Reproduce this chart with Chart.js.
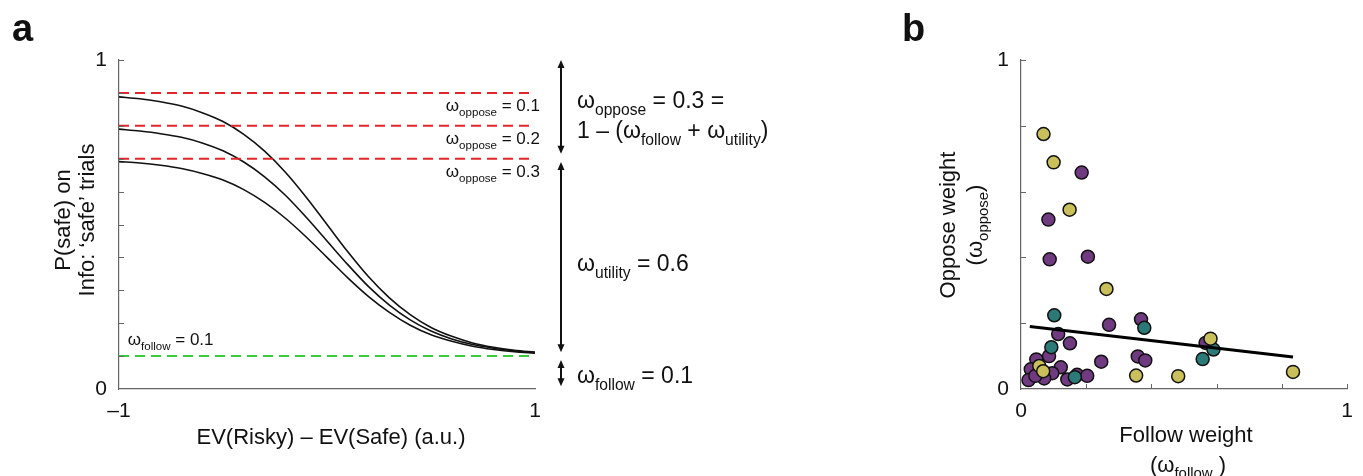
<!DOCTYPE html>
<html>
<head>
<meta charset="utf-8">
<script src="https://cdn.jsdelivr.net/npm/chart.js@4/dist/chart.umd.min.js"></script>
<style>
  body { margin: 0; background: #fff; width: 1363px; height: 476px; overflow: hidden; }
  .panel { position: absolute; top: 0; }
  #panelA { left: 0; }
  #panelB { left: 880px; }
</style>
</head>
<body>
<div class="panel" id="panelA"><canvas id="chartA" width="780" height="476"></canvas></div>
<div class="panel" id="panelB"><canvas id="chartB" width="483" height="476"></canvas></div>
<script>
// panel a: model curves, P(safe) vs EV(Risky) - EV(Safe)
const evDiff = [-1, -0.9, -0.8, -0.7, -0.6, -0.5, -0.4, -0.3, -0.2, -0.1, 0, 0.1, 0.2, 0.3, 0.4, 0.5, 0.6, 0.7, 0.8, 0.9, 1];
const pSafeOppose1 = [0.888, 0.882, 0.873, 0.860, 0.840, 0.813, 0.774, 0.723, 0.659, 0.583, 0.500, 0.417, 0.341, 0.277, 0.226, 0.187, 0.160, 0.140, 0.127, 0.118, 0.112];
const pSafeOppose2 = [0.790, 0.784, 0.776, 0.765, 0.748, 0.724, 0.690, 0.645, 0.589, 0.522, 0.450, 0.378, 0.311, 0.255, 0.210, 0.176, 0.152, 0.135, 0.124, 0.116, 0.110];
const pSafeOppose3 = [0.691, 0.687, 0.680, 0.670, 0.655, 0.635, 0.606, 0.567, 0.519, 0.462, 0.400, 0.338, 0.281, 0.233, 0.194, 0.165, 0.145, 0.130, 0.120, 0.113, 0.109];
const opposeLevels = [0.9, 0.8, 0.7];
const opposeLabels = ["0.1", "0.2", "0.3"];
const followLevel = 0.1;

// panel b: fitted weights per participant, three groups
const followPurple = [0.186, 0.084, 0.088, 0.205, 0.270, 0.368, 0.114, 0.150, 0.566, 0.246, 0.358, 0.381, 0.047, 0.086, 0.030, 0.023, 0.122, 0.096, 0.071, 0.044, 0.142, 0.172, 0.203];
const opposePurple = [0.658, 0.515, 0.394, 0.402, 0.195, 0.212, 0.167, 0.139, 0.140, 0.083, 0.099, 0.087, 0.090, 0.100, 0.060, 0.027, 0.066, 0.048, 0.032, 0.040, 0.029, 0.043, 0.040];
const followTeal = [0.102, 0.378, 0.093, 0.590, 0.557, 0.165];
const opposeTeal = [0.224, 0.186, 0.127, 0.120, 0.091, 0.036];
const followYellow = [0.069, 0.100, 0.149, 0.262, 0.581, 0.353, 0.482, 0.834, 0.056, 0.068];
const opposeYellow = [0.775, 0.689, 0.545, 0.304, 0.153, 0.041, 0.039, 0.052, 0.070, 0.054];
const fitFollow = [0.027, 0.834];
const fitOppose = [0.190, 0.097];

const FONT = "'Liberation Sans', Arial, Helvetica, sans-serif";
const pts = (xs, ys) => xs.map((x, i) => ({ x: x, y: ys[i] }));
const endLabel = v => (Math.abs(v) < 1e-9 ? "0" : Math.abs(v - 1) < 1e-9 ? "1" : "");
const evLabel = v => (Math.abs(v + 1) < 1e-9 ? "–1" : Math.abs(v - 1) < 1e-9 ? "1" : "");

// text with subscripts: runs = [[text, isSub], ...]; y is the middle of capitals
function rich(ctx, runs, x, y, size, align, angle) {
  ctx.save();
  ctx.translate(x, y);
  if (angle) ctx.rotate(angle);
  ctx.fillStyle = "#111";
  ctx.textAlign = "left";
  ctx.textBaseline = "alphabetic";
  const subSize = size * 0.68;
  let w = 0;
  runs.forEach(r => {
    ctx.font = (r[1] ? subSize : size) + "px " + FONT;
    w += ctx.measureText(r[0]).width;
  });
  let cx = align === "center" ? -w / 2 : align === "right" ? -w : 0;
  runs.forEach(r => {
    ctx.font = (r[1] ? subSize : size) + "px " + FONT;
    ctx.fillText(r[0], cx, size * 0.36 + (r[1] ? size * 0.28 : 0));
    cx += ctx.measureText(r[0]).width;
  });
  ctx.restore();
}

function doubleArrow(ctx, x, y1, y2) {
  ctx.save();
  ctx.strokeStyle = "#111";
  ctx.fillStyle = "#111";
  ctx.lineWidth = 2;
  ctx.beginPath();
  ctx.moveTo(x, y1 + 6);
  ctx.lineTo(x, y2 - 6);
  ctx.stroke();
  ctx.beginPath();
  ctx.moveTo(x, y1); ctx.lineTo(x - 3.5, y1 + 8); ctx.lineTo(x + 3.5, y1 + 8); ctx.closePath();
  ctx.moveTo(x, y2); ctx.lineTo(x - 3.5, y2 - 8); ctx.lineTo(x + 3.5, y2 - 8); ctx.closePath();
  ctx.fill();
  ctx.restore();
}

function inwardTicks(ctx, chart, xToo) {
  const xs = chart.scales.x, ys = chart.scales.y, a = chart.chartArea;
  ctx.save();
  ctx.strokeStyle = "#666";
  ctx.lineWidth = 1;
  ys.ticks.forEach(t => {
    if (t.value <= 0) return;
    const py = Math.round(ys.getPixelForValue(t.value)) + 0.5;
    ctx.beginPath(); ctx.moveTo(a.left, py); ctx.lineTo(a.left + 5, py); ctx.stroke();
  });
  if (xToo) {
    xs.ticks.forEach(t => {
      if (t.value <= 0) return;
      const px = Math.round(xs.getPixelForValue(t.value)) + 0.5;
      ctx.beginPath(); ctx.moveTo(px, a.bottom); ctx.lineTo(px, a.bottom - 5); ctx.stroke();
    });
  }
  ctx.restore();
}

const tickFont = { family: FONT, size: 21 };
const axisBorder = { display: true, color: "#666", width: 1.2 };
const noGrid = { display: false, drawTicks: false, tickLength: 0 };

const decorA = {
  id: "decorA",
  afterDraw(chart) {
    const ctx = chart.ctx, a = chart.chartArea, ys = chart.scales.y, xs = chart.scales.x;
    inwardTicks(ctx, chart, false);
    ctx.save();
    ctx.font = "bold 38px " + FONT;
    ctx.fillStyle = "#111";
    ctx.fillText("a", 12, 41);
    ctx.restore();
    // axis titles
    rich(ctx, [["EV(Risky) – EV(Safe) (a.u.)", 0]], (a.left + a.right) / 2 + 4, 436, 22, "center");
    rich(ctx, [["P(safe) on", 0]], 62, 220, 22, "center", -Math.PI / 2);
    rich(ctx, [["Info: ‘safe’ trials", 0]], 86, 220, 22, "center", -Math.PI / 2);
    // labels of the dashed levels
    opposeLevels.forEach((lv, i) => {
      rich(ctx, [["ω", 0], ["oppose", 1], [" = " + opposeLabels[i], 0]], a.right + 5, ys.getPixelForValue(lv) + 12, 17, "right");
    });
    rich(ctx, [["ω", 0], ["follow", 1], [" = 0.1", 0]], xs.getPixelForValue(-0.958), ys.getPixelForValue(followLevel) - 17, 17, "left");
    // weight decomposition on the right
    const ax = a.right + 26, tx = a.right + 42;
    doubleArrow(ctx, ax, ys.getPixelForValue(1.0), ys.getPixelForValue(0.715));
    doubleArrow(ctx, ax, ys.getPixelForValue(0.69), ys.getPixelForValue(0.112));
    doubleArrow(ctx, ax, ys.getPixelForValue(0.088), ys.getPixelForValue(0.008));
    rich(ctx, [["ω", 0], ["oppose", 1], [" = 0.3 =", 0]], tx, ys.getPixelForValue(0.878), 23, "left");
    rich(ctx, [["1 – (ω", 0], ["follow", 1], [" + ω", 0], ["utility", 1], [")", 0]], tx, ys.getPixelForValue(0.787), 23, "left");
    rich(ctx, [["ω", 0], ["utility", 1], [" = 0.6", 0]], tx, ys.getPixelForValue(0.383), 23, "left");
    rich(ctx, [["ω", 0], ["follow", 1], [" = 0.1", 0]], tx, ys.getPixelForValue(0.043), 23, "left");
  }
};

const levelLine = (lv, color) => ({
  data: [{ x: -1, y: lv }, { x: 1, y: lv }],
  showLine: true, pointRadius: 0, borderColor: color, borderWidth: 2, borderDash: [10, 6], clip: false
});
const curve = ys => ({
  data: pts(evDiff, ys), showLine: true, pointRadius: 0, borderColor: "#111", borderWidth: 1.6,
  cubicInterpolationMode: "monotone"
});

new Chart(document.getElementById("chartA"), {
  type: "scatter",
  data: {
    datasets: [
      ...opposeLevels.map(lv => levelLine(lv, "#e3262b")),
      levelLine(followLevel, "#3acb3a"),
      curve(pSafeOppose1), curve(pSafeOppose2), curve(pSafeOppose3)
    ]
  },
  options: {
    responsive: false, animation: false, devicePixelRatio: 1,
    layout: { padding: { left: 0, right: 245, top: 60, bottom: 0 } },
    plugins: { legend: { display: false }, tooltip: { enabled: false } },
    scales: {
      x: {
        type: "linear", min: -1, max: 1,
        grid: noGrid, border: axisBorder,
        ticks: { stepSize: 1, autoSkip: false, color: "#111", font: tickFont, padding: 10, maxRotation: 0,
          callback: evLabel },
        afterFit: s => { s.height = 87; }
      },
      y: {
        min: 0, max: 1,
        grid: noGrid, border: axisBorder,
        ticks: { stepSize: 0.1, autoSkip: false, color: "#111", font: tickFont, padding: 12,
          callback: endLabel },
        afterFit: s => { s.width = 119; }
      }
    }
  },
  plugins: [decorA]
});

const decorB = {
  id: "decorB",
  afterDraw(chart) {
    const ctx = chart.ctx;
    inwardTicks(ctx, chart, true);
    ctx.save();
    ctx.font = "bold 38px " + FONT;
    ctx.fillStyle = "#111";
    ctx.fillText("b", 22, 41);
    ctx.restore();
    rich(ctx, [["Follow weight", 0]], 306, 434, 22, "center");
    rich(ctx, [["(ω", 0], ["follow", 1], [" )", 0]], 308, 464, 22, "center");
    rich(ctx, [["Oppose weight", 0]], 67, 225, 22, "center", -Math.PI / 2);
    rich(ctx, [["(ω", 0], ["oppose", 1], [")", 0]], 94, 225, 22, "center", -Math.PI / 2);
  }
};

const dots = (xs, ys, color) => ({
  data: pts(xs, ys), backgroundColor: color, borderColor: "#111", borderWidth: 1.5, pointRadius: 6.5, order: 1
});

new Chart(document.getElementById("chartB"), {
  type: "scatter",
  data: {
    datasets: [
      { data: pts(fitFollow, fitOppose), showLine: true, pointRadius: 0, borderColor: "#000", borderWidth: 3, order: 0 },
      dots(followYellow, opposeYellow, "#c9c05c"),
      dots(followTeal, opposeTeal, "#2c7a78"),
      dots(followPurple, opposePurple, "#6f3a80")
    ]
  },
  options: {
    responsive: false, animation: false, devicePixelRatio: 1,
    layout: { padding: { left: 0, right: 10, top: 60, bottom: 0 } },
    plugins: { legend: { display: false }, tooltip: { enabled: false } },
    scales: {
      x: {
        type: "linear", min: 0, max: 1,
        grid: noGrid, border: axisBorder,
        ticks: { stepSize: 0.2, autoSkip: false, color: "#111", font: tickFont, padding: 10, maxRotation: 0,
          callback: endLabel },
        afterFit: s => { s.height = 87; }
      },
      y: {
        min: 0, max: 1,
        grid: noGrid, border: axisBorder,
        ticks: { stepSize: 0.2, autoSkip: false, color: "#111", font: tickFont, padding: 12,
          callback: endLabel },
        afterFit: s => { s.width = 141; }
      }
    }
  },
  plugins: [decorB]
});
</script>
</body>
</html>
